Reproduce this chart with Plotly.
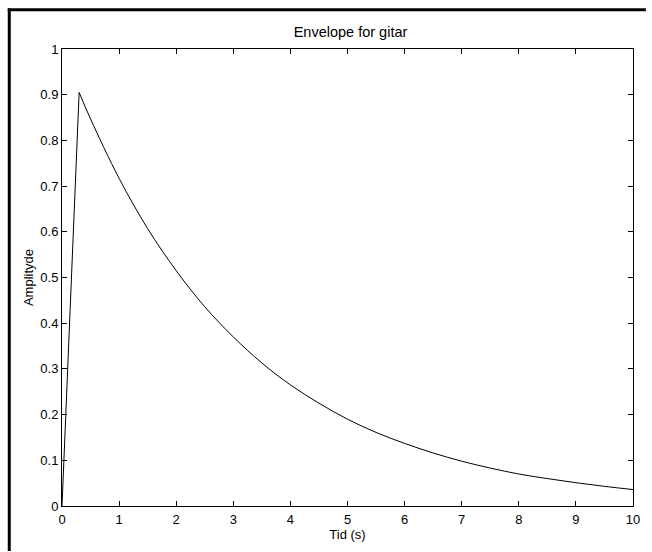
import plotly.graph_objects as go

# Attack phase (linear rise)
attack_t = [0.0, 0.3]
attack_a = [0.0, 0.905]

# Decay phase
decay_t = [0.3, 0.5, 1.0, 1.5, 2.0, 2.5, 3.0, 3.5, 4.0, 4.5, 5.0,
           5.5, 6.0, 6.5, 7.0, 7.5, 8.0, 8.5, 9.0, 9.5, 10.0]
decay_a = [0.905, 0.847, 0.717, 0.607, 0.515, 0.436, 0.370, 0.313, 0.265, 0.225, 0.190,
           0.161, 0.137, 0.116, 0.098, 0.083, 0.070, 0.060, 0.051, 0.043, 0.036]

x_ticks = list(range(0, 11))
x_ticklabels = [str(v) for v in x_ticks]
y_ticks = [i / 10 for i in range(0, 11)]
y_ticklabels = ["0", "0.1", "0.2", "0.3", "0.4", "0.5", "0.6", "0.7", "0.8", "0.9", "1"]

FONT = "Liberation Sans, Arial, sans-serif"

fig = go.Figure()
fig.add_trace(go.Scatter(x=attack_t, y=attack_a, mode="lines",
                         line=dict(color="black", width=1), showlegend=False))
fig.add_trace(go.Scatter(x=decay_t, y=decay_a, mode="lines",
                         line=dict(color="black", width=1, shape="spline", smoothing=1.0),
                         showlegend=False))

W, H = 652, 552
L, R, T, B = 62, 13, 49, 45
pw, ph = W - L - R, H - T - B


def px(xp):
    return (xp - L) / pw


def py(yp):
    return (H - B - yp) / ph


fig.update_layout(
    width=W, height=H,
    margin=dict(l=L, r=R, t=T, b=B),
    paper_bgcolor="white", plot_bgcolor="white",
    font=dict(family=FONT, size=13, color="black"),
    title=dict(text="Envelope for gitar", x=0.5 * (L + W - R) / W, xanchor="center",
               y=1 - 32 / H, yanchor="middle", font=dict(size=14.5)),
    xaxis=dict(range=[0, 10], tickvals=x_ticks, ticktext=x_ticklabels,
               ticks="inside", ticklen=5, tickwidth=1, tickcolor="black",
               showline=True, linecolor="black", linewidth=1, mirror="ticks",
               showgrid=False, zeroline=False, ticklabelstandoff=1,
               tickfont=dict(size=13),
               title=dict(text="Tid (s)", standoff=4, font=dict(size=13))),
    yaxis=dict(range=[0, 1], tickvals=y_ticks, ticktext=y_ticklabels,
               ticks="inside", ticklen=5, tickwidth=1, tickcolor="black",
               showline=True, linecolor="black", linewidth=1, mirror="ticks",
               showgrid=False, zeroline=False,
               tickfont=dict(size=13),
               title=dict(text="Amplityde", standoff=3, font=dict(size=13))),
    shapes=[
        dict(type="line", xref="paper", yref="paper",
             x0=px(7.2), x1=px(652), y0=py(9.7), y1=py(9.7),
             line=dict(color="black", width=3)),
        dict(type="line", xref="paper", yref="paper",
             x0=px(8.7), x1=px(8.7), y0=py(8.3), y1=py(552),
             line=dict(color="black", width=3)),
    ],
)

fig.write_html("out.html", config={"displayModeBar": False})
